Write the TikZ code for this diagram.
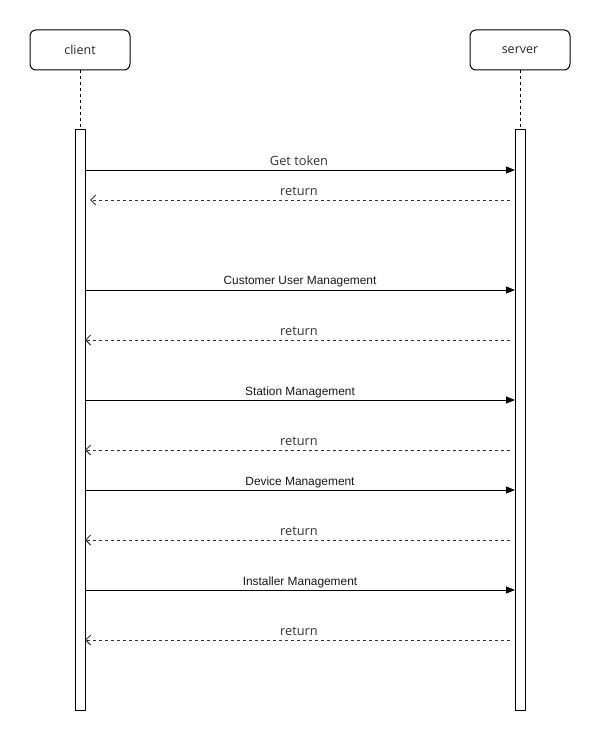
\documentclass[tikz,border=0pt]{standalone}
\usepackage{fontspec}
\setmainfont{Open Sans}
\newfontfamily\arialf{Liberation Sans}
\usetikzlibrary{arrows.meta}
\begin{document}
\begin{tikzpicture}[x=1pt,y=-1pt,
  actor/.style={draw=black,line width=1pt,rounded corners=6pt,minimum width=100pt,minimum height=40pt,inner sep=0pt,font=\fontsize{12.5}{14}\selectfont,text=black!85},
  bar/.style={draw=black,line width=1pt,fill=white},
  life/.style={draw=black,line width=0.8pt,dash pattern=on 3pt off 3pt},
  call/.style={draw=black,line width=1pt,-{Triangle[length=9pt,width=7pt]}},
  ret/.style={draw=black!80,line width=1pt,dash pattern=on 3pt off 3pt,-{Straight Barb[length=5pt,width=10pt,line width=1pt]}},
  clab/.style={font=\arialf\fontsize{11.9}{13}\selectfont,text=black!90,inner sep=0pt},
  rlab/.style={font=\fontsize{12.8}{14}\selectfont,text=black!80,inner sep=0pt}]
\useasboundingbox[fill=white] (0,0) rectangle (600,741);
\node[actor] (client) at (80,50) {client};
\node[actor] (server) at (520,50) {server};
\coordinate (ctop) at (80,130);
\coordinate (stop) at (520,130);
\draw[life] (client.south) -- (ctop);
\draw[life] (server.south) -- (stop);
\draw[bar] (75,130) rectangle (85,710);
\draw[bar] (515,130) rectangle (525,710);
% messages
\foreach \y/\n in {170/a,290/b,400/c,490/d,590/e}{
  \coordinate (cl\n) at (85,\y);
  \coordinate (sr\n) at (515,\y);
}
\foreach \y/\n in {200/a,340/b,450/c,540/d,640/e}{
  \coordinate (rs\n) at (510,\y);
  \coordinate (rc\n) at (85,\y);
}
\coordinate (rca) at (90,200);
\draw[call] (cla) -- (sra);
\node[rlab] (la) at (299,161) {Get token};
\draw[ret] (rsa) -- (rca);
\node[rlab] (lra) at (299,191) {return};
\draw[call] (clb) -- (srb);
\node[clab] (lb) at (300,282) {Customer User Management};
\draw[ret] (rsb) -- (rcb);
\node[rlab] (lrb) at (299,331) {return};
\draw[call] (clc) -- (src);
\node[clab] (lc) at (300,392) {Station Management};
\draw[ret] (rsc) -- (rcc);
\node[rlab] (lrc) at (299,441) {return};
\draw[call] (cld) -- (srd);
\node[clab] (ld) at (300,482) {Device Management};
\draw[ret] (rsd) -- (rcd);
\node[rlab] (lrd) at (299,531) {return};
\draw[call] (cle) -- (sre);
\node[clab] (le) at (300,582) {Installer Management};
\draw[ret] (rse) -- (rce);
\node[rlab] (lre) at (299,631) {return};
\end{tikzpicture}
\end{document}
